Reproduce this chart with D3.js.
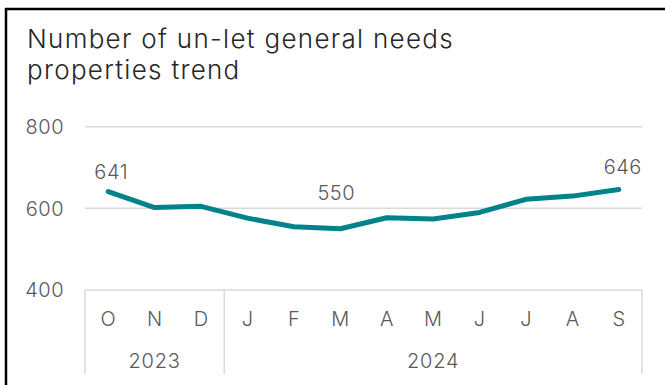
<!DOCTYPE html>
<html><head><meta charset="utf-8">
<script src="https://cdn.jsdelivr.net/npm/d3@7"></script>
<style>
html,body{margin:0;padding:0;background:#fff;}
svg{display:block;}
text{font-family:Inter,"Open Sans",sans-serif;}
</style></head>
<body>
<svg id="c" width="665" height="385"></svg>
<script>
const months = ["O","N","D","J","F","M","A","M","J","J","A","S"];
const values = [641, 602, 605, 576, 555, 550, 577, 574, 590, 622, 630, 646];
const years = ["2023","2024"];
const yearSpans = [3, 9];
const yTicks = [400, 600, 800];
const labelled = [0, 5, 11];
const titleLines = ["Number of un-let general needs", "properties trend"];

// label placement (style, not data)
const labelOffset = {0:[3,-12.5], 5:[-4,-29], 11:[4,-16]};

const svg = d3.select("#c");
const x = d3.scaleBand().domain(d3.range(months.length)).range([85, 642]);
const y = d3.scaleLinear().domain([400, 800]).range([290, 126.7]);
const FONT = 20;

// frame
svg.append("line").attr("x1",5).attr("x2",665).attr("y1",9).attr("y2",9).attr("stroke","#000").attr("stroke-width",2.5);
svg.append("line").attr("x1",6).attr("x2",6).attr("y1",8).attr("y2",385).attr("stroke","#000").attr("stroke-width",2.5);

// title
svg.append("text").attr("x",27).attr("y",48).attr("font-size",26).attr("font-weight",300)
  .attr("letter-spacing","1.3px").attr("fill","#262626")
  .selectAll("tspan").data(titleLines).join("tspan").attr("x",27).attr("dy",(d,i)=>i?31:0).text(d=>d);

// gridlines
svg.append("g").selectAll("line").data(yTicks.filter(t=>t>400)).join("line")
  .attr("x1",85).attr("x2",642).attr("y1",d=>y(d)).attr("y2",d=>y(d)).attr("stroke","#d9d9d9").attr("stroke-width",1.5);

// y labels
svg.append("g").selectAll("text").data(yTicks).join("text")
  .attr("x",64).attr("y",d=>y(d)).attr("dy","0.36em").attr("text-anchor","end").attr("letter-spacing","0.5px")
  .attr("font-size",FONT).attr("font-weight",300).attr("fill","#595959").text(d=>d);

// x axis box
const axG = svg.append("g").attr("stroke","#d9d9d9").attr("stroke-width",1.5);
axG.append("line").attr("x1",85).attr("x2",642).attr("y1",y(400)).attr("y2",y(400));
let cum = 0;
const bounds = [0];
yearSpans.forEach(s=>{cum+=s;bounds.push(cum);});
const bx = i => i < months.length ? x(i) : x.range()[1];
axG.selectAll("line.v").data(bounds).join("line").attr("class","v")
  .attr("x1",d=>bx(d)).attr("x2",d=>bx(d)).attr("y1",y(400)).attr("y2",374);

svg.append("g").selectAll("text").data(months).join("text")
  .attr("x",(d,i)=>x(i)+x.bandwidth()/2).attr("y",326).attr("text-anchor","middle")
  .attr("font-size",FONT).attr("font-weight",300).attr("fill","#595959").text(d=>d);

svg.append("g").selectAll("text").data(years).join("text")
  .attr("x",(d,i)=>(bx(bounds[i])+bx(bounds[i+1]))/2).attr("y",368).attr("text-anchor","middle").attr("letter-spacing","0.8px")
  .attr("font-size",FONT).attr("font-weight",300).attr("fill","#595959").text(d=>d);

// line
const line = d3.line().x((d,i)=>x(i)+x.bandwidth()/2).y(d=>y(d));
svg.append("path").datum(values).attr("d",line).attr("fill","none")
  .attr("stroke","#00838a").attr("stroke-width",5).attr("stroke-linecap","round").attr("stroke-linejoin","round");

// data labels
svg.append("g").selectAll("text").data(labelled).join("text")
  .attr("x",i=>x(i)+x.bandwidth()/2 + labelOffset[i][0]).attr("y",i=>y(values[i])+labelOffset[i][1]).attr("text-anchor","middle").attr("letter-spacing","0.5px")
  .attr("font-size",FONT).attr("font-weight",300).attr("fill","#595959").text(i=>values[i]);
</script>
</body></html>
